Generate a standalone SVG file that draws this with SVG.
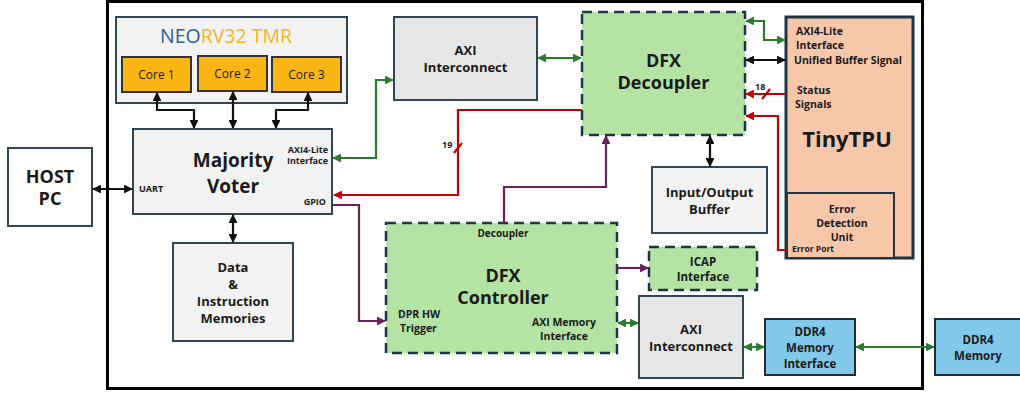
<svg xmlns="http://www.w3.org/2000/svg" width="1020" height="394" viewBox="0 0 1020 394">
  <style>
    text { font-family: "Open Sans", "Noto Sans", "Liberation Sans", sans-serif; font-weight: 700; fill: #1a1a1a; }
    .c { text-anchor: middle; }
    .r { text-anchor: end; }
    .box { stroke: #2f4656; stroke-width: 2; }
    .gray { fill: #f2f2f2; }
    .gray2 { fill: #e6e6e6; }
    .core { fill: #fbb515; stroke: #333; stroke-width: 2; }
    .dfx { fill: #b4e3a4; stroke: #1d3646; stroke-width: 2.5; stroke-dasharray: 10 6; }
    .blue { fill: #82c8ea; stroke: #1f2d38; stroke-width: 2; }
    .w { fill: none; stroke-width: 2.2; }
    .k { stroke: #111; }
    .g { stroke: #2a7b2e; }
    .rd { stroke: #c00000; }
    .p { stroke: #6a1f5e; }
    .s9 { font-size: 9px; }
    .s10 { font-size: 10px; }
    .s105 { font-size: 10.5px; }
    .s11 { font-size: 11.5px; }
    .s12 { font-size: 12px; font-weight: 400; }
    .s13 { font-size: 13px; }
    .s18 { font-size: 18px; }
  </style>
  <defs>
    <marker id="ak" viewBox="0 0 10 10" refX="9" refY="5" markerWidth="4" markerHeight="4" orient="auto-start-reverse"><path d="M0,0 L10,5 L0,10 z" fill="#111"/></marker>
    <marker id="ag" viewBox="0 0 10 10" refX="9" refY="5" markerWidth="4" markerHeight="4" orient="auto-start-reverse"><path d="M0,0 L10,5 L0,10 z" fill="#2a7b2e"/></marker>
    <marker id="ar" viewBox="0 0 10 10" refX="9" refY="5" markerWidth="4" markerHeight="4" orient="auto-start-reverse"><path d="M0,0 L10,5 L0,10 z" fill="#c00000"/></marker>
    <marker id="ap" viewBox="0 0 10 10" refX="9" refY="5" markerWidth="4" markerHeight="4" orient="auto-start-reverse"><path d="M0,0 L10,5 L0,10 z" fill="#6a1f5e"/></marker>
  </defs>

  <rect width="1020" height="394" fill="#ffffff"/>

  <!-- FPGA boundary -->
  <rect x="107.5" y="1.5" width="815" height="387" fill="none" stroke="#000" stroke-width="3"/>

  <g id="host-pc">
    <rect class="box" x="8" y="148" width="84" height="78" fill="#ffffff" stroke-width="2.5"/>
    <text class="c s18" x="50" y="183">HOST</text>
    <text class="c s18" x="50" y="205">PC</text>
  </g>

  <g id="neorv32-tmr">
    <rect class="box gray" x="116" y="17" width="231" height="86"/>
    <text class="c" x="226" y="43" style="font-size:19.5px;font-weight:400"><tspan fill="#2e5c9c">NEO</tspan><tspan fill="#f2b429">RV32 TMR</tspan></text>
  </g>
  <g id="core1">
    <rect class="core" x="122" y="57" width="69" height="35"/>
    <text class="c s12" x="156.5" y="79">Core 1</text>
  </g>
  <g id="core2">
    <rect class="core" x="198" y="56" width="69" height="35"/>
    <text class="c s12" x="232.5" y="78">Core 2</text>
  </g>
  <g id="core3">
    <rect class="core" x="272" y="57" width="69" height="35"/>
    <text class="c s12" x="306.5" y="79">Core 3</text>
  </g>

  <g id="majority-voter">
    <rect class="box gray" x="133" y="129" width="199" height="85"/>
    <text class="c" x="233" y="167" style="font-size:19px">Majority</text>
    <text class="c" x="233" y="193" style="font-size:19px">Voter</text>
    <text class="r s9" x="328" y="153">AXI4-Lite</text>
    <text class="r s9" x="328" y="164">Interface</text>
    <text class="s9" x="139" y="192">UART</text>
    <text class="r s9" x="326" y="205">GPIO</text>
  </g>

  <g id="memories">
    <rect class="box gray" x="173" y="243" width="120" height="98"/>
    <text class="c s13" x="233" y="272">Data</text>
    <text class="c s13" x="233" y="289">&amp;</text>
    <text class="c s13" x="233" y="306">Instruction</text>
    <text class="c s13" x="233" y="323">Memories</text>
  </g>

  <g id="axi-interconnect-top">
    <rect class="box gray2" x="394" y="17" width="143" height="83"/>
    <text class="c s13" x="465.5" y="55">AXI</text>
    <text class="c s13" x="465.5" y="72">Interconnect</text>
  </g>

  <g id="dfx-decoupler">
    <rect class="dfx" x="582" y="12" width="163" height="123"/>
    <text class="c s18" x="663.5" y="67">DFX</text>
    <text class="c s18" x="663.5" y="89">Decoupler</text>
  </g>

  <g id="io-buffer">
    <rect class="box gray" x="652" y="167" width="115" height="66"/>
    <text class="c s13" x="709.5" y="197">Input/Output</text>
    <text class="c s13" x="709.5" y="214">Buffer</text>
  </g>

  <g id="tinytpu">
    <rect x="786" y="17" width="127" height="241" fill="#f8c7a9" stroke="#1d3646" stroke-width="3"/>
    <text class="s105" x="796" y="35">AXI4-Lite</text>
    <text class="s105" x="796" y="49">Interface</text>
    <text class="s105" x="794" y="64">Unified Buffer Signal</text>
    <text class="s105" x="797" y="94">Status</text>
    <text class="s105" x="795" y="108">Signals</text>
    <text class="c" x="847" y="147" style="font-size:22px">TinyTPU</text>
  </g>
  <g id="error-detection-unit">
    <rect x="787" y="193" width="107" height="65" fill="#f8c7a9" stroke="#1d3646" stroke-width="2"/>
    <text class="c s105" x="842" y="213">Error</text>
    <text class="c s105" x="842" y="227">Detection</text>
    <text class="c s105" x="842" y="241">Unit</text>
    <text x="792" y="252" style="font-size:8.5px">Error Port</text>
  </g>

  <g id="dfx-controller">
    <rect class="dfx" x="386" y="223" width="231" height="130"/>
    <text class="c s10" x="503" y="237">Decoupler</text>
    <text class="c s18" x="503" y="282">DFX</text>
    <text class="c s18" x="503" y="304">Controller</text>
    <text class="s105" x="398" y="318">DPR HW</text>
    <text class="s105" x="400" y="332">Trigger</text>
    <text class="c s105" x="564" y="326">AXI Memory</text>
    <text class="c s105" x="564" y="340">Interface</text>
  </g>

  <g id="icap">
    <rect class="dfx" x="649" y="247" width="108" height="43"/>
    <text class="c s11" x="703" y="266">ICAP</text>
    <text class="c s11" x="703" y="281">Interface</text>
  </g>

  <g id="axi-interconnect-bottom">
    <rect class="box gray2" x="639" y="296" width="104" height="82"/>
    <text class="c s13" x="691" y="334">AXI</text>
    <text class="c s13" x="691" y="351">Interconnect</text>
  </g>

  <g id="ddr4-interface">
    <rect class="blue" x="765" y="319" width="90" height="56"/>
    <text class="c s11" x="810" y="336">DDR4</text>
    <text class="c s11" x="810" y="352">Memory</text>
    <text class="c s11" x="810" y="368">Interface</text>
  </g>

  <g id="ddr4-memory">
    <rect class="blue" x="935" y="319" width="86" height="56"/>
    <text class="c s11" x="978" y="344">DDR4</text>
    <text class="c s11" x="978" y="360">Memory</text>
  </g>

  <g id="connectors">
    <!-- cores to voter -->
    <path class="w k" d="M157,93 V110 H194 V128" marker-start="url(#ak)" marker-end="url(#ak)"/>
    <path class="w k" d="M233,92 V128" marker-start="url(#ak)" marker-end="url(#ak)"/>
    <path class="w k" d="M308,93 V110 H276 V128" marker-start="url(#ak)" marker-end="url(#ak)"/>
    <!-- host link and memories -->
    <path class="w k" d="M93,189 H132" marker-start="url(#ak)" marker-end="url(#ak)"/>
    <path class="w k" d="M233,215 V242" marker-start="url(#ak)" marker-end="url(#ak)"/>
    <!-- AXI4-Lite from voter to interconnect -->
    <path class="w g" d="M333,158 H376 V80 H393" marker-start="url(#ag)" marker-end="url(#ag)"/>
    <path class="w g" d="M538,58 H581" marker-start="url(#ag)" marker-end="url(#ag)"/>
    <!-- decoupler to TinyTPU -->
    <path class="w g" d="M746,21 H764 V40 H785" marker-start="url(#ag)" marker-end="url(#ag)"/>
    <path class="w k" d="M746,60 H785" marker-start="url(#ak)" marker-end="url(#ak)"/>
    <path class="w rd" d="M785,94 H746" marker-end="url(#ar)"/>
    <path class="w rd" d="M762,99 L770,89"/>
    <text class="s9" x="755" y="90">18</text>
    <path class="w rd" d="M787,250 H778 V116 H746" marker-end="url(#ar)"/>
    <!-- decoupler status back to voter GPIO -->
    <path class="w rd" d="M582,110 H458 V195 H334" marker-end="url(#ar)"/>
    <path class="w rd" d="M454,153 L462,143"/>
    <text class="s9" x="442" y="148">19</text>
    <!-- decoupler buffer -->
    <path class="w k" d="M710,136 V166" marker-start="url(#ak)" marker-end="url(#ak)"/>
    <!-- controller decouple signal -->
    <path class="w p" d="M504,223 V187 H606 V136" marker-end="url(#ap)"/>
    <!-- GPIO trigger -->
    <path class="w p" d="M333,205 H359 V321 H385" marker-end="url(#ap)"/>
    <!-- controller to ICAP -->
    <path class="w p" d="M618,268 H648" marker-end="url(#ap)"/>
    <!-- memory path -->
    <path class="w g" d="M618,323 H638" marker-start="url(#ag)" marker-end="url(#ag)"/>
    <path class="w g" d="M744,347 H764" marker-start="url(#ag)" marker-end="url(#ag)"/>
    <path class="w g" d="M856,347 H934" marker-start="url(#ag)" marker-end="url(#ag)"/>
  </g>
</svg>
